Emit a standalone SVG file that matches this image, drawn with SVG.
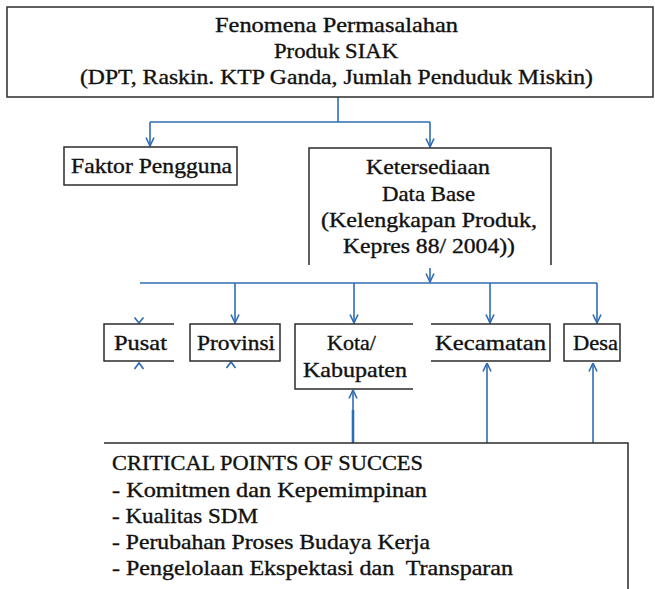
<svg xmlns="http://www.w3.org/2000/svg" width="655" height="589" viewBox="0 0 655 589">
  <style>
    .box { fill: none; stroke: #2b2b2b; stroke-width: 1.5; }
    .t { font-family: "Liberation Serif", "DejaVu Serif", serif; font-size: 21px; fill: #111; stroke: #111; stroke-width: 0.35; }
    .c { text-anchor: middle; }
    .ln { fill: none; stroke: #2f6db3; stroke-width: 1.6; }
    .thick { stroke-width: 2.6; }
    .head { fill: none; stroke: #2f6db3; stroke-width: 1.7; }
  </style>
  <defs>
    <marker id="ah" viewBox="0 0 10 10" refX="9.5" refY="5" markerUnits="userSpaceOnUse" markerWidth="10" markerHeight="10" orient="auto">
      <path d="M1,1 L9.5,5 L1,9" fill="none" stroke="#2f6db3" stroke-width="1.6"/>
    </marker>
  </defs>
  <rect width="655" height="589" fill="#ffffff"/>

  <g id="connectors">
    <path class="ln" d="M338,97 V122 M150,122 H430"/>
    <path class="ln" d="M150,122 V146" marker-end="url(#ah)"/>
    <path class="ln" d="M430,122 V147" marker-end="url(#ah)"/>
    <path class="ln" d="M430,268 V282" marker-end="url(#ah)"/>
    <path class="ln" d="M140,283 H597"/>
    <path class="ln" d="M235,283 V323" marker-end="url(#ah)"/>
    <path class="ln" d="M354,283 V323" marker-end="url(#ah)"/>
    <path class="ln" d="M490,283 V323" marker-end="url(#ah)"/>
    <path class="ln" d="M597,283 V323" marker-end="url(#ah)"/>
    <path class="head" d="M134.5,317.5 L139,323 L143.5,317.5"/>
    <path class="head" d="M134.5,369 L139,363 L143.5,369"/>
    <path class="head" d="M226.5,368 L231,362 L235.5,368"/>
    <path class="ln" d="M353,443 V390" marker-end="url(#ah)"/>
    <path class="ln thick" d="M353,443 V410"/>
    <path class="ln" d="M487,443 V363" marker-end="url(#ah)"/>
    <path class="ln" d="M593,443 V363" marker-end="url(#ah)"/>
  </g>

  <g id="fenomena">
    <rect class="box" x="7" y="7" width="646" height="90"/>
    <text class="t c" x="336.5" y="32" textLength="243" lengthAdjust="spacingAndGlyphs">Fenomena Permasalahan</text>
    <text class="t c" x="336" y="58" textLength="124" lengthAdjust="spacingAndGlyphs">Produk SIAK</text>
    <text class="t c" x="336.5" y="84" textLength="513" lengthAdjust="spacingAndGlyphs">(DPT, Raskin. KTP Ganda, Jumlah Penduduk Miskin)</text>
  </g>

  <g id="faktor-pengguna">
    <rect class="box" x="64" y="147" width="173" height="38"/>
    <text class="t c" x="151.5" y="173" textLength="161" lengthAdjust="spacingAndGlyphs">Faktor Pengguna</text>
  </g>

  <g id="ketersediaan">
    <path class="box" d="M309,265 V148 H551 V265"/>
    <text class="t c" x="428" y="174" textLength="124" lengthAdjust="spacingAndGlyphs">Ketersediaan</text>
    <text class="t c" x="428.5" y="201" textLength="93" lengthAdjust="spacingAndGlyphs">Data Base</text>
    <text class="t c" x="429" y="227" textLength="216" lengthAdjust="spacingAndGlyphs">(Kelengkapan Produk,</text>
    <text class="t c" x="429" y="253" textLength="172" lengthAdjust="spacingAndGlyphs">Kepres 88/ 2004))</text>
  </g>

  <g id="pusat">
    <path class="box" d="M174,324 H104 V361 H174"/>
    <text class="t c" x="140.5" y="350" textLength="53" lengthAdjust="spacingAndGlyphs">Pusat</text>
  </g>

  <g id="provinsi">
    <rect class="box" x="190" y="324" width="90" height="37"/>
    <text class="t c" x="236" y="350" textLength="78" lengthAdjust="spacingAndGlyphs">Provinsi</text>
  </g>

  <g id="kota-kabupaten">
    <path class="box" d="M413,324 H295 V389 H413"/>
    <text class="t c" x="351.5" y="350" textLength="49" lengthAdjust="spacingAndGlyphs">Kota/</text>
    <text class="t c" x="355" y="377" textLength="104" lengthAdjust="spacingAndGlyphs">Kabupaten</text>
  </g>

  <g id="kecamatan">
    <path class="box" d="M431,324 H550 V361 H431"/>
    <text class="t c" x="490.5" y="350" textLength="111" lengthAdjust="spacingAndGlyphs">Kecamatan</text>
  </g>

  <g id="desa">
    <rect class="box" x="564" y="324" width="56" height="37"/>
    <text class="t c" x="595.5" y="350" textLength="45" lengthAdjust="spacingAndGlyphs">Desa</text>
  </g>

  <g id="critical-points">
    <path class="box" d="M104,443 H628 V589"/>
    <text class="t" x="112" y="470" textLength="311" lengthAdjust="spacingAndGlyphs">CRITICAL POINTS OF SUCCES</text>
    <text class="t" x="112" y="497" textLength="315" lengthAdjust="spacingAndGlyphs">- Komitmen dan Kepemimpinan</text>
    <text class="t" x="112" y="523" textLength="146" lengthAdjust="spacingAndGlyphs">- Kualitas SDM</text>
    <text class="t" x="112" y="549" textLength="318" lengthAdjust="spacingAndGlyphs">- Perubahan Proses Budaya Kerja</text>
    <text class="t" x="112" y="575" textLength="401" lengthAdjust="spacingAndGlyphs" xml:space="preserve">- Pengelolaan Ekspektasi dan  Transparan</text>
  </g>
</svg>
